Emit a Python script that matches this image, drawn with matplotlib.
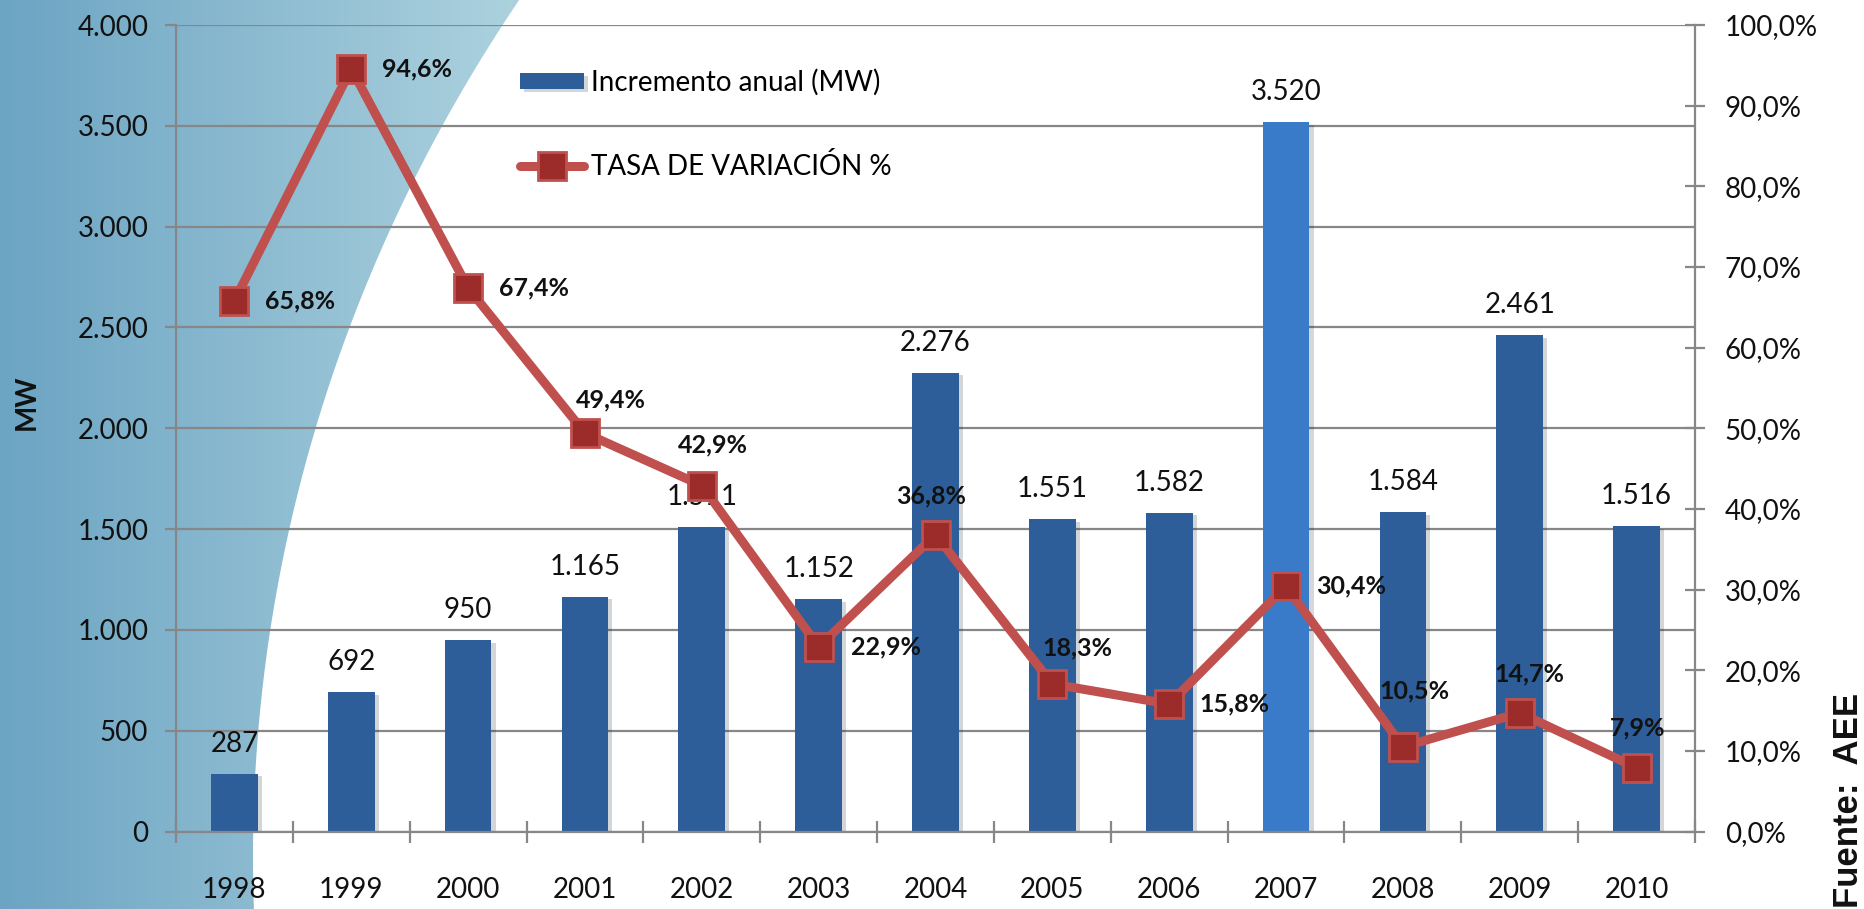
import matplotlib
matplotlib.use("Agg")
import matplotlib.pyplot as plt
import matplotlib.patheffects as pe
from matplotlib.patches import Polygon
from matplotlib.colors import LinearSegmentedColormap
import numpy as np

years = ['1998', '1999', '2000', '2001', '2002', '2003', '2004',
         '2005', '2006', '2007', '2008', '2009', '2010']
incremento_mw = [287, 692, 950, 1165, 1511, 1152, 2276, 1551, 1582, 3520, 1584, 2461, 1516]
tasa_variacion = [65.8, 94.6, 67.4, 49.4, 42.9, 22.9, 36.8, 18.3, 15.8, 30.4, 10.5, 14.7, 7.9]

# where each % label sits relative to its marker (points), and its alignment
pct_offsets = [(22, 0, 'left'), (22, 0, 'left'), (22, 0, 'left'), (19, 24, 'center'),
               (8, 29, 'center'), (23, 0, 'left'), (-3, 28, 'center'), (18, 26, 'center'),
               (22, 0, 'left'), (22, 0, 'left'), (8, 40, 'center'), (7, 28, 'center'),
               (1, 29, 'center')]

plt.rcParams['font.family'] = ['Lato', 'DejaVu Sans']

W, H = 1865, 909
fig = plt.figure(figsize=(W / 100, H / 100), dpi=100)
fig.patch.set_facecolor('white')

# background swoosh on the left (pixel coords of the figure)
bg = fig.add_axes([0, 0, 1, 1], zorder=-5)
bg.axis('off')
ys = np.linspace(0, H, 200)
cx, cy, a, b = 2037, 856, 1784, 1629
xs = cx - a * np.sqrt(np.clip(1 - ((ys - cy) / b) ** 2, 0, 1))
poly = Polygon(np.vstack([[[0, 0]], np.column_stack([xs, ys]), [[0, H]]]),
               closed=True, facecolor='none', edgecolor='none')
bg.add_patch(poly)
cmap = LinearSegmentedColormap.from_list('bgblue', ['#6CA4C3', '#AED3DF'])
grad = np.linspace(0, 1, 256).reshape(1, -1)
im = bg.imshow(grad, cmap=cmap, extent=[0, 530, H, 0], aspect='auto')
im.set_clip_path(poly)
bg.set_xlim(0, W)
bg.set_ylim(H, 0)

ax = fig.add_axes([176 / W, 1 - 831.5 / H, (1695 - 176) / W, (831.5 - 25) / H])
ax.patch.set_alpha(0)
ax2 = ax.twinx()
ax2.patch.set_alpha(0)

grey = '#878787'
x = np.arange(len(years))
bar_colors = ['#3A7BC9' if y == '2007' else '#2D5E99' for y in years]
bars = ax.bar(x, incremento_mw, width=0.4, color=bar_colors, zorder=2,
              label='Incremento anual (MW)',
              path_effects=[pe.SimplePatchShadow(offset=(3, -2), alpha=0.18), pe.Normal()])

for i, v in enumerate(incremento_mw):
    ax.annotate(f"{v:,}".replace(',', '.'), (i, v), xytext=(0, 21.5),
                textcoords='offset points', ha='center', va='center',
                fontsize=20, color='#111111', zorder=3)

ax.set_xlim(-0.5, len(years) - 0.5)
ax.set_ylim(0, 4000)
ax.set_yticks(np.arange(0, 4001, 500))
ax.set_yticklabels([f"{v:,}".replace(',', '.') for v in range(0, 4001, 500)])
ax.yaxis.grid(True, color=grey, linewidth=1.6, zorder=0)
ax.set_axisbelow(True)
ax.set_xticks(x)
ax.set_xticklabels(years)
ax.set_xticks(np.arange(-0.5, len(years)), minor=True)
ax.tick_params(axis='x', which='major', length=0, pad=33, labelsize=20, labelcolor='#111111')
ax.tick_params(axis='x', which='minor', direction='inout', length=16, width=1.6, color=grey)
ax.tick_params(axis='y', direction='out', length=8, width=1.6, color=grey, pad=12,
               labelsize=20, labelcolor='#111111')

for s in ['top', 'right']:
    ax.spines[s].set_visible(False)
for s in ['left', 'bottom']:
    ax.spines[s].set_color(grey)
    ax.spines[s].set_linewidth(1.6)

line, = ax2.plot(x, tasa_variacion, color='#C0504D', linewidth=6.5, marker='s',
                 markersize=20, markerfacecolor='#9B2C2A', markeredgecolor='#C0504D',
                 markeredgewidth=2, solid_capstyle='round', solid_joinstyle='round',
                 label='TASA DE VARIACIÓN %', zorder=5)
for i, v in enumerate(tasa_variacion):
    dx, dy, ha = pct_offsets[i]
    ax2.annotate(f"{v:.1f}%".replace('.', ','), (i, v), xytext=(dx, dy),
                 textcoords='offset points', ha=ha, va='center',
                 fontsize=18, fontweight='bold', color='#111111', zorder=6)

ax2.set_ylim(0, 100)
ax2.set_yticks(np.arange(0, 101, 10))
ax2.set_yticklabels([f"{v:.1f}%".replace('.', ',') for v in range(0, 101, 10)])
ax2.tick_params(axis='y', direction='inout', length=15, width=1.6, color=grey, pad=14,
                labelsize=20, labelcolor='#111111')
for s in ['top', 'left', 'bottom']:
    ax2.spines[s].set_visible(False)
ax2.spines['right'].set_color(grey)
ax2.spines['right'].set_linewidth(1.6)

ax2.legend(handles=[bars, line], loc='upper left', bbox_to_anchor=(506 / W, 1 - 55 / H),
           bbox_transform=fig.transFigure, frameon=False, fontsize=20, borderpad=0,
           labelspacing=2.05, handlelength=2.3, handleheight=0.5, handletextpad=0.25)

fig.text(27 / W, 1 - 402 / H, 'MW', rotation=90, ha='center', va='center',
         fontsize=20, fontweight='bold', color='#111111')
fig.text(1849 / W, 1 - 800 / H, 'Fuente:  AEE', rotation=90, ha='center', va='center',
         fontsize=25, fontweight='bold', color='#111111', family=['Liberation Sans'])

fig.savefig('out.png', dpi=100, facecolor='white')
